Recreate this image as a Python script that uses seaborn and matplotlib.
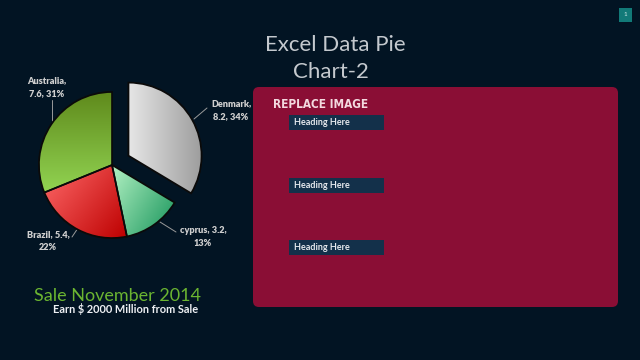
import numpy as np
import matplotlib
matplotlib.use("Agg")
import matplotlib.pyplot as plt
import seaborn as sns
from matplotlib.patches import FancyBboxPatch, Rectangle, Wedge
from matplotlib.colors import LinearSegmentedColormap

sns.set_theme(style="white")
plt.rcParams['font.family'] = ['Lato', 'DejaVu Sans']

# ---- data ----
countries = ["Denmark", "cyprus", "Brazil", "Australia"]
sales = [8.2, 3.2, 5.4, 7.6]
percents = ["34%", "13%", "22%", "31%"]
explode = [0.26, 0, 0, 0]
headings = ["Heading Here", "Heading Here", "Heading Here"]

BG = "#021423"
W, H = 640, 360
fig = plt.figure(figsize=(6.4, 3.6), dpi=100, facecolor=BG)

# overlay axis in pixel coordinates
ov = fig.add_axes([0, 0, 1, 1])
ov.set_xlim(0, W)
ov.set_ylim(H, 0)
ov.axis("off")
ov.set_facecolor(BG)

# pie axis: center (112,165), radius 73 px
cx, cy, R, S = 112, 165, 73, 110
ax = fig.add_axes([(cx - S) / W, 1 - (cy + S) / H, 2 * S / W, 2 * S / H])
wedges, _ = ax.pie(sales, explode=explode, startangle=90, counterclock=False,
                   wedgeprops=dict(edgecolor="#101010", linewidth=1.2))
lim = S / R
ax.set_aspect("equal")
ax.axis("off")

grads = [("#e6e6e6", "#9c9c9c", 0), ("#b4f2c4", "#16945a", -35),
         ("#ff6a6a", "#bd0000", -35), ("#92d452", "#5f8a1c", 90)]
for w, (c1, c2, ang) in zip(wedges, grads):
    ext = w.get_path().get_extents()
    x0, y0, x1, y1 = ext.x0, ext.y0, ext.x1, ext.y1
    n = 200
    xx, yy = np.meshgrid(np.linspace(0, 1, n), np.linspace(0, 1, n))
    a = np.deg2rad(ang)
    t = xx * np.cos(a) + yy * np.sin(a)
    t = (t - t.min()) / (t.max() - t.min())
    cmap = LinearSegmentedColormap.from_list("g", [c1, c2])
    im = ax.imshow(t, cmap=cmap, extent=(x0, x1, y0, y1), origin="lower",
                   interpolation="bilinear", zorder=1.5, aspect="auto")
    im.set_clip_path(w)
    w.set_facecolor(c1)
    w.set_zorder(1)
    e = Wedge(w.center, w.r, w.theta1, w.theta2, facecolor="none",
              edgecolor="#0a0a0a", linewidth=1.2, zorder=2)
    ax.add_patch(e)
ax.set_xlim(-lim, lim)
ax.set_ylim(-lim, lim)

# labels with leader lines (positions in pixel coordinates)
label_pos = [(231, 110), (203, 237), (48, 241), (47, 87)]
line_pts = [((207, 108), (194, 119)), ((176, 232), (160, 222)),
            ((72, 237), (78, 228)), ((52, 100), (52, 122))]
label_txt = [f"{countries[0]},\n{sales[0]}, {percents[0]}",
             f"{countries[1]}, {sales[1]},\n{percents[1]}",
             f"{countries[2]}, {sales[2]},\n{percents[2]}",
             f"{countries[3]},\n{sales[3]}, {percents[3]}"]
for (lx, ly), (p, q), txt in zip(label_pos, line_pts, label_txt):
    ov.text(lx, ly, txt, ha="center", va="center", color="#cfcfcf", fontsize=6.6,
            fontweight="heavy", linespacing=1.55, zorder=5)
    ov.plot([p[0], q[0]], [p[1], q[1]], color="#9a9a9a", lw=0.7, zorder=5)

# title
ov.text(335, 45, "Excel Data Pie", ha="center", va="center", color="#c4c9ce",
        fontsize=16, fontweight="normal")
ov.text(331, 72, "Chart-2", ha="center", va="center", color="#c4c9ce",
        fontsize=16, fontweight="normal")

# red panel
panel = FancyBboxPatch((253 + 6, 87 + 6), 365 - 12, 220 - 12,
                       boxstyle="round,pad=6", facecolor="#8a0e35",
                       edgecolor="none", zorder=1)
ov.add_patch(panel)
ov.text(273, 105, "REPLACE IMAGE", ha="left", va="center", color="#f3d9df",
        fontsize=8.5, fontweight="bold", fontstretch="condensed",
        family=["DejaVu Sans"], zorder=3)
for yb, htxt in zip([115, 178, 240], headings):
    ov.add_patch(Rectangle((289, yb), 95, 15, facecolor="#13304a", edgecolor="none", zorder=2))
    ov.text(294, yb + 7.5, htxt, ha="left", va="center", color="#e6e9ee",
            fontsize=6.5, fontweight="bold", zorder=3)

# slide number
ov.add_patch(Rectangle((619, 8), 13, 14, facecolor="#127a78", edgecolor="none"))
ov.text(625.5, 15, "1", ha="center", va="center", color="#d0e8e8", fontsize=4.5)

# bottom texts
ov.text(117, 296, "Sale November 2014", ha="center", va="center", color="#6bb531",
        fontsize=13, fontweight="normal")
ov.text(125.5, 309, "Earn $ 2000 Million from Sale", ha="center", va="center",
        color="#eef0f4", fontsize=7.9, fontweight="bold")

fig.savefig("out.png", dpi=100, facecolor=BG)
